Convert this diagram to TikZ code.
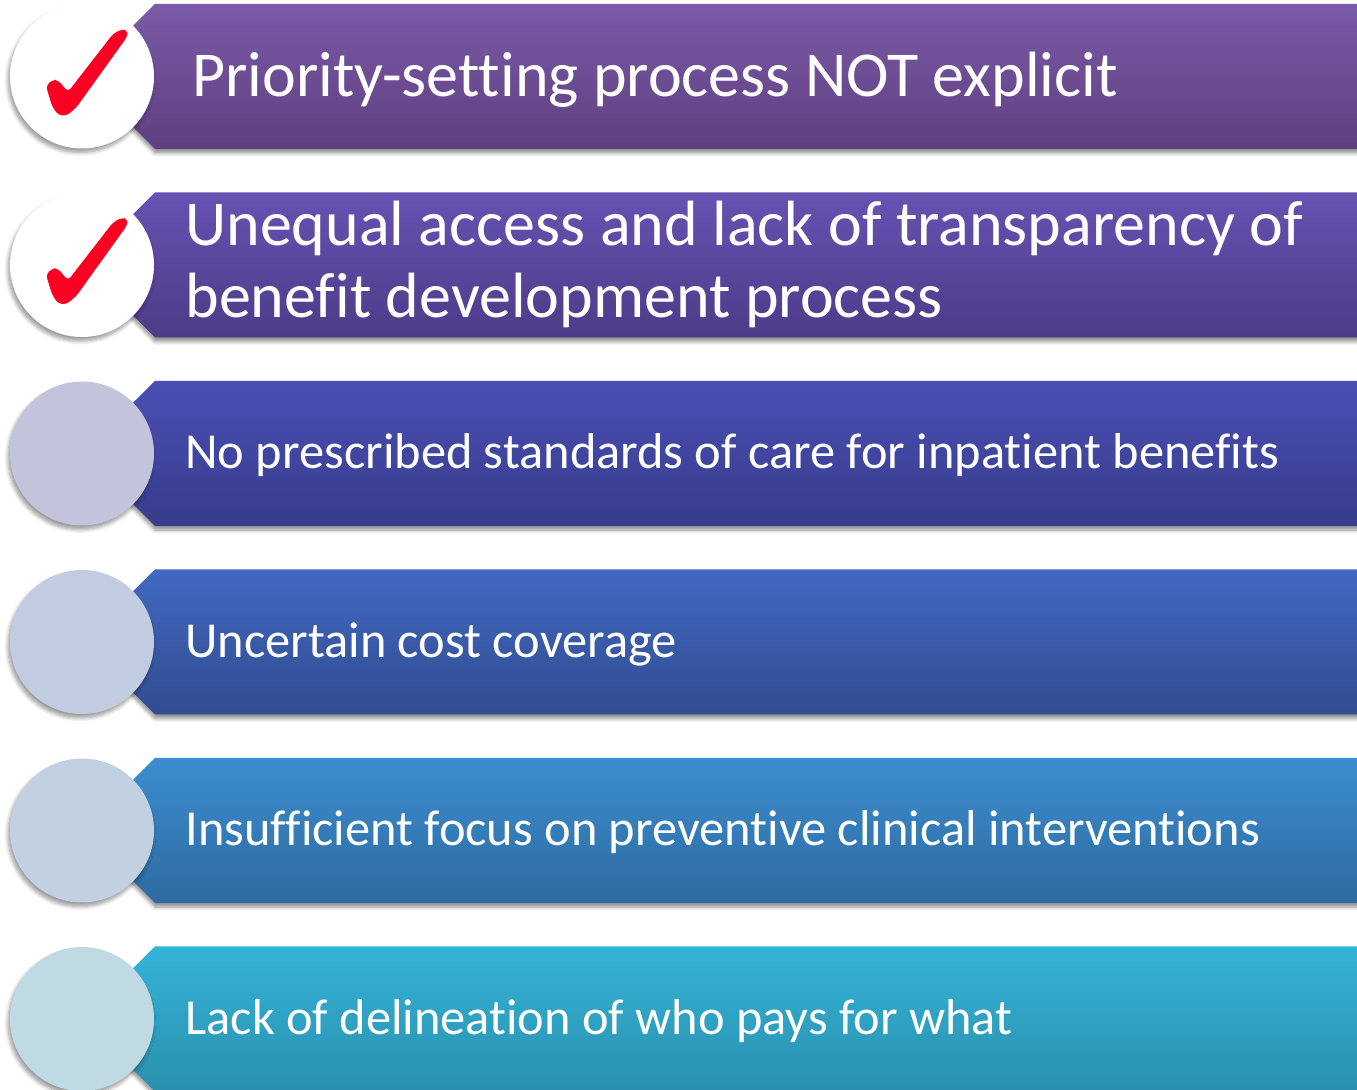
\documentclass[tikz,border=0pt]{standalone}
\usepackage{fontspec}
\setmainfont{Carlito}[Ligatures={NoCommon}]
\usetikzlibrary{shadows.blur}
\definecolor{barAtop}{HTML}{7B5AA7}
\definecolor{barAbot}{HTML}{5E4080}
\definecolor{barBtop}{HTML}{6652B2}
\definecolor{barBbot}{HTML}{4C3C88}
\definecolor{barCtop}{HTML}{4A4FB6}
\definecolor{barCbot}{HTML}{373C8A}
\definecolor{barDtop}{HTML}{4169C2}
\definecolor{barDbot}{HTML}{324C90}
\definecolor{barEtop}{HTML}{3C8ED0}
\definecolor{barEbot}{HTML}{2D6AA0}
\definecolor{barFtop}{HTML}{35B3D8}
\definecolor{barFbot}{HTML}{2990AD}
\definecolor{tickred}{HTML}{FA0022}
\begin{document}
\begin{tikzpicture}[x=0.5pt,y=0.5pt,yscale=-1,xscale=1,
    bar/.style={blur shadow={shadow xshift=0pt,shadow yshift=-2pt,shadow blur steps=6,shadow opacity=45}},
    disc/.style={circle,inner sep=0pt,minimum size=72pt,blur shadow={shadow xshift=-1pt,shadow yshift=-2pt,shadow blur steps=6,shadow opacity=40}},
    label/.style={anchor=base west,inner sep=0pt,text=white,font=\fontsize{25.2}{30}\selectfont},
    biglabel/.style={label,align=left,font=\fontsize{32}{36}\selectfont},
    tick/.style={fill=tickred,rounded corners=2pt}]
                    \useasboundingbox (0,0) rectangle (1357,1090);
                    % bars
                    \path [bar,top color=barAtop,bottom color=barAbot] (155,4) -- (1362,4) -- (1362,149) -- (155,149) -- (100,94) -- (100,59) -- cycle ;
                    \path [bar,top color=barBtop,bottom color=barBbot] (155,192.5) -- (1362,192.5) -- (1362,337.5) -- (155,337.5) -- (100,282.5) -- (100,247.5) -- cycle ;
                    \path [bar,top color=barCtop,bottom color=barCbot] (155,381) -- (1362,381) -- (1362,526) -- (155,526) -- (100,471) -- (100,436) -- cycle ;
                    \path [bar,top color=barDtop,bottom color=barDbot] (155,569.5) -- (1362,569.5) -- (1362,714.5) -- (155,714.5) -- (100,659.5) -- (100,624.5) -- cycle ;
                    \path [bar,top color=barEtop,bottom color=barEbot] (155,758) -- (1362,758) -- (1362,903) -- (155,903) -- (100,848) -- (100,813) -- cycle ;
                    \path [bar,top color=barFtop,bottom color=barFbot] (155,946.5) -- (1362,946.5) -- (1362,1091.5) -- (155,1091.5) -- (100,1036.5) -- (100,1001.5) -- cycle ;
                    % discs
                    \node [disc,fill=white] (d1) at (82,76.5) {};
                    \node [disc,fill=white] (d2) at (82,265) {};
                    \node [disc,fill={rgb,255:red,195;green,196;blue,220}] (d3) at (82,453.5) {};
                    \node [disc,fill={rgb,255:red,194;green,204;blue,224}] (d4) at (82,642) {};
                    \node [disc,fill={rgb,255:red,193;green,209;blue,225}] (d5) at (82,830.5) {};
                    \node [disc,fill={rgb,255:red,192;green,218;blue,227}] (d6) at (82,1019) {};
                    % ticks
                    \fill [tick] (46,86) -- (52,80) -- (58,80) -- (68,92) -- (113,34) -- (122,29) -- (128,31) -- (127,37) -- (76,108) -- (66,116) -- (58,115) -- (52,106) -- cycle ;
                    \fill [tick,shift={(0,188.5)}] (46,86) -- (52,80) -- (58,80) -- (68,92) -- (113,34) -- (122,29) -- (128,31) -- (127,37) -- (76,108) -- (66,116) -- (58,115) -- (52,106) -- cycle ;
                    % texts
                    \node [biglabel] (p1) at (192,96.5) {Priority-setting process NOT explicit};
                    \node [biglabel] (p2) at (185,318) {Unequal access and lack of transparency of\\benefit development process};
                    \node [label] (p3) at (185,469) {No prescribed standards of care for inpatient benefits};
                    \node [label] (p4) at (185,657.5) {Uncertain cost coverage};
                    \node [label] (p5) at (185,846) {Insufficient focus on preventive clinical interventions};
                    \node [label] (p6) at (185,1034.5) {Lack of delineation of who pays for what};
\end{tikzpicture}
\end{document}
